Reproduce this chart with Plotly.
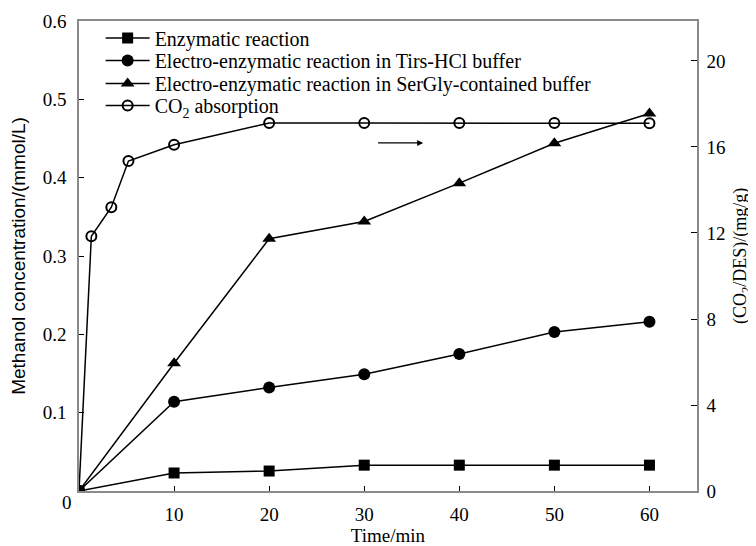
import plotly.graph_objects as go

# Data
time_main = [0, 10, 20, 30, 40, 50, 60]
enzymatic = [0.0, 0.023, 0.0255, 0.033, 0.033, 0.033, 0.033]
tris_hcl = [0.0, 0.114, 0.132, 0.149, 0.175, 0.203, 0.216]
sergly = [0.0, 0.163, 0.322, 0.344, 0.393, 0.444, 0.482]
time_co2 = [0, 1.3, 3.4, 5.2, 10, 20, 30, 40, 50, 60]
co2_abs = [0.0, 11.85, 13.2, 15.35, 16.1, 17.12, 17.12, 17.12, 17.12, 17.1]

series_names = [
    "Enzymatic reaction",
    "Electro-enzymatic reaction in Tirs-HCl buffer",
    "Electro-enzymatic reaction in SerGly-contained buffer",
    "CO<sub>2</sub> absorption",
]

x_ticks = [10, 20, 30, 40, 50, 60]
y_ticks = [0.1, 0.2, 0.3, 0.4, 0.5, 0.6]
y2_ticks = [0, 4, 8, 12, 16, 20]

SERIF = "Liberation Serif"
SANS = "Liberation Sans"
AXC = "#8a8a8a"
FS = 19
LEG_FS = 20

# The page body has an 8px margin; size the figure so that it fills the 756x546 window.
BODY = 8
FIG_W, FIG_H = 756 - BODY, 546 - BODY
PLOT_L, PLOT_R, PLOT_TOP, PLOT_BOT = 79, 697, 21, 491  # window pixels

fig = go.Figure()
fig.add_trace(go.Scatter(x=time_main, y=enzymatic, mode="lines+markers", name=series_names[0],
                         legend="legend",
                         line=dict(color="black", width=1.5),
                         marker=dict(symbol="square", size=11, color="black")))
fig.add_trace(go.Scatter(x=time_main, y=tris_hcl, mode="lines+markers", name=series_names[1],
                         legend="legend2",
                         line=dict(color="black", width=1.5),
                         marker=dict(symbol="circle", size=12, color="black")))
fig.add_trace(go.Scatter(x=time_main, y=sergly, mode="lines+markers", name=series_names[2],
                         legend="legend3",
                         line=dict(color="black", width=1.5),
                         marker=dict(symbol="triangle-up", size=12, color="black")))
fig.add_trace(go.Scatter(x=time_co2, y=co2_abs, mode="lines+markers", name=series_names[3],
                         legend="legend4", yaxis="y2",
                         line=dict(color="black", width=1.5),
                         marker=dict(symbol="circle-open", size=10, color="black", line=dict(width=2))))

def leg(py):
    return dict(x=0.035, y=(PLOT_BOT - py) / (PLOT_BOT - PLOT_TOP), xanchor="left", yanchor="middle",
                bgcolor="rgba(0,0,0,0)", font=dict(family=SERIF, size=LEG_FS), borderwidth=0,
                itemwidth=44)

fig.update_layout(
    width=FIG_W, height=FIG_H,
    margin=dict(l=PLOT_L - BODY, r=FIG_W - (PLOT_R - BODY), t=PLOT_TOP - BODY,
                b=FIG_H - (PLOT_BOT - BODY), autoexpand=False),
    paper_bgcolor="white", plot_bgcolor="white",
    font=dict(family=SERIF, size=FS, color="black"),
    showlegend=True,
    legend=leg(38), legend2=leg(60.5), legend3=leg(83.5), legend4=leg(105.5),
    xaxis=dict(range=[0, 65], tickvals=x_ticks, ticks="inside", ticklen=5, tickcolor="black",
               showline=True, linecolor=AXC, linewidth=1.5, mirror=True, showgrid=False,
               zeroline=False, tickfont=dict(family=SERIF, size=FS), automargin=False,
               ticklabelstandoff=5,
               title=dict(text="Time/min", font=dict(family=SERIF, size=FS), standoff=6)),
    yaxis=dict(range=[0, 0.6], tickvals=y_ticks, ticks="inside", ticklen=5, tickcolor="black",
               showline=True, linecolor=AXC, linewidth=1.5, showgrid=False, zeroline=False,
               tickformat=".1f", tickfont=dict(family=SERIF, size=FS), ticklabelstandoff=7,
               automargin=False,
               title=dict(text="Methanol concentration/(mmol/L)", font=dict(family=SANS, size=19),
                          standoff=13)),
    yaxis2=dict(range=[0, 21.86], tickvals=y2_ticks, ticks="inside", ticklen=6, tickcolor="black",
                overlaying="y", side="right", showline=True, linecolor=AXC, linewidth=1.5,
                showgrid=False, zeroline=False, tickfont=dict(family=SERIF, size=FS),
                ticklabelstandoff=4, automargin=False),
)

# right axis title
fig.add_annotation(text="(CO<sub>2</sub>/DES)/(mg/g)", xref="paper", yref="paper",
                   x=(741 - PLOT_L) / (PLOT_R - PLOT_L), y=0.5, textangle=-90, showarrow=False,
                   xanchor="center", yanchor="middle", font=dict(family=SERIF, size=18))
# origin label
fig.add_annotation(text="0", xref="paper", yref="paper", x=-0.031, y=-0.05,
                   showarrow=False, font=dict(family=SERIF, size=FS))
# arrow pointing to the right axis
fig.add_annotation(x=36.2, y=0.4444, ax=31.3, ay=0.4444, xref="x", yref="y", axref="x", ayref="y",
                   text="", showarrow=True, arrowhead=2, arrowsize=1, arrowwidth=1.2,
                   arrowcolor="black")

fig.write_html("out.html")
